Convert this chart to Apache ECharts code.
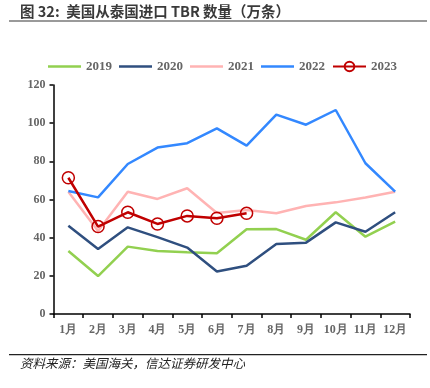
<!DOCTYPE html>
<html><head><meta charset="utf-8">
<script src="https://cdn.jsdelivr.net/npm/echarts@6/dist/echarts.min.js"></script>
<style>html,body{margin:0;padding:0;background:#fff}#c{width:430px;height:388px}</style>
</head><body><div id="c"></div>
<script>
const categories = ['1月','2月','3月','4月','5月','6月','7月','8月','9月','10月','11月','12月'];
const yTicks = [0,20,40,60,80,100,120];
const s2019 = [33.0,19.9,35.3,33.0,32.3,31.8,44.4,44.5,38.9,53.3,40.5,48.4];
const s2020 = [46.3,34.1,45.4,40.3,34.8,22.3,25.3,36.7,37.4,48.0,43.1,53.3];
const s2021 = [64.0,43.5,64.1,60.3,65.9,52.9,54.5,52.8,56.6,58.5,61.1,64.1];
const s2022 = [64.5,61.1,78.6,87.2,89.5,97.3,88.2,104.5,99.2,106.9,79.0,64.1];
const s2023 = [71.4,45.8,53.3,47.2,51.4,50.2,52.8];
const names = ['2019','2020','2021','2022','2023'];

const chart = echarts.init(document.getElementById('c'), null, {renderer:'canvas'});
const lab = {fontFamily:'Liberation Serif', fontWeight:'bold', fontSize:13, color:'#666'};
const barIcon = 'path://M0,0H132V10H0Z';
function line(name, data, color, z){
  return {name, type:'line', data, symbol:'none', z:z,
    lineStyle:{color, width:2.5}, itemStyle:{color}};
}
chart.setOption({
  animation:false,
  graphic:[
    {type:'text', left:20, top:4, style:{text:'图 32:  美国从泰国进口 TBR 数量（万条）', fontFamily:'Noto Sans CJK SC', fontWeight:'bold', fontSize:14.5, fill:'#3a3a3a'}},
    {type:'rect', shape:{x:9, y:20, width:418, height:2}, style:{fill:'#9a9a9a'}},
    {type:'rect', shape:{x:9, y:354, width:418, height:1.2}, style:{fill:'#222'}},
    {type:'text', left:20, top:357, style:{text:'资料来源：美国海关，信达证券研发中心', fontFamily:'Noto Sans CJK SC', fontStyle:'italic', fontSize:12.5, fill:'#222'}}
  ],
  legend:{
    data:[
      {name:'2019', icon:barIcon},
      {name:'2020', icon:barIcon},
      {name:'2021', icon:barIcon},
      {name:'2022', icon:barIcon},
      {name:'2023'}
    ],
    left:43, top:55, itemWidth:33, itemHeight:12, itemGap:7,
    textStyle:Object.assign({}, lab, {fontSize:13})},
  grid:{left:53.5, right:20, top:85, bottom:74, containLabel:false},
  xAxis:{type:'category', data:categories, boundaryGap:true,
    axisLine:{lineStyle:{color:'#000', width:1.5}},
    axisTick:{show:true, length:4, lineStyle:{color:'#000', width:1.5}, alignWithLabel:false},
    axisLabel:Object.assign({}, lab, {margin:10, fontSize:12, interval:0})},
  yAxis:{type:'value', min:0, max:120, interval:20,
    axisLine:{show:true, lineStyle:{color:'#000', width:1.5}},
    axisTick:{show:true, length:4, lineStyle:{color:'#000', width:1.5}},
    splitLine:{show:false},
    axisLabel:Object.assign({}, lab, {margin:8, fontSize:12})},
  series:[
    line('2019', s2019, '#92D050', 2),
    line('2020', s2020, '#2F4F7F', 3),
    line('2021', s2021, '#FFB3B3', 2),
    line('2022', s2022, '#3388FF', 4),
    {name:'2023', type:'line', data:s2023, symbol:'circle', symbolSize:12, z:5,
      lineStyle:{color:'#C00000', width:2.5},
      itemStyle:{color:'rgba(255,255,255,0)', borderColor:'#C00000', borderWidth:1.5}}
  ]
});
</script></body></html>
